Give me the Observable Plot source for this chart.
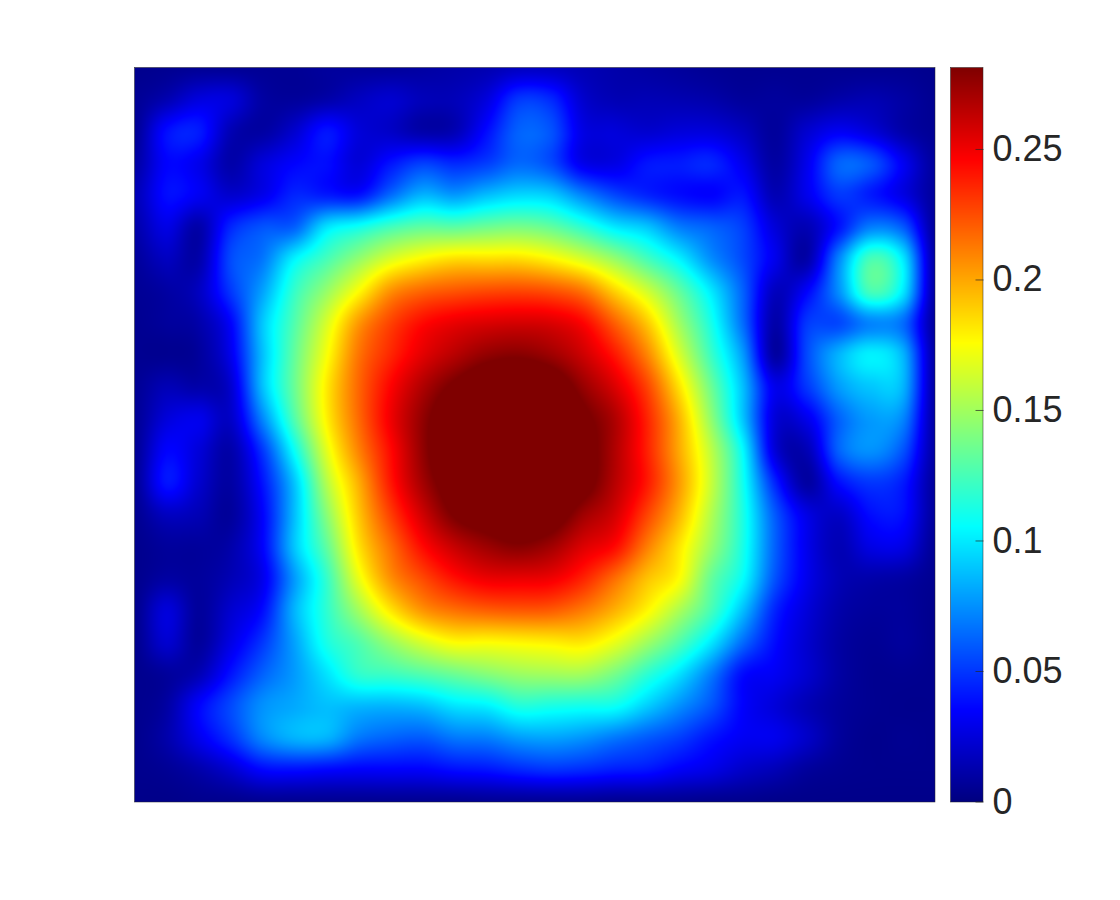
<!DOCTYPE html>
<html><head><meta charset="utf-8">
<script src="https://cdn.jsdelivr.net/npm/d3@7"></script>
<script src="https://cdn.jsdelivr.net/npm/@observablehq/plot@0.6"></script>
<style>
html,body{margin:0;padding:0;background:#fff}
#wrap{position:relative;width:1120px;height:900px;overflow:hidden}
#wrap svg,#wrap>div{position:absolute;left:0;top:0}
</style></head><body><div id="wrap"></div>
<script>
// Field values, in thousandths (rows top to bottom, columns left to right)
const grid = [
[4,5,6,6,6,6,8,8,8,10,12,14,18,18,15,12,10,8,6,5,5,5,5,5,5,4],
[6,14,26,25,10,8,12,18,22,16,16,26,50,46,22,15,15,14,12,8,8,8,12,14,10,5],
[6,38,42,15,10,22,40,25,20,12,15,38,62,58,28,25,22,25,25,18,8,22,32,25,12,6],
[10,35,30,12,25,35,38,25,40,52,46,52,64,56,30,28,40,42,45,30,10,30,62,58,32,8],
[15,38,32,22,30,45,42,40,65,85,78,88,95,92,72,55,45,38,35,40,15,30,50,42,28,8],
[12,28,12,45,58,62,98,110,124,132,131,136,139,133,118,100,90,70,62,52,25,15,40,70,60,8],
[8,18,12,55,68,103,125,146,166,178,185,185,185,178,165,147,125,103,75,55,30,12,72,125,100,10],
[6,10,18,50,80,120,147,176,206,218,223,226,227,224,214,188,163,133,100,62,18,35,75,125,100,10],
[5,8,12,35,90,128,165,204,228,244,252,256,258,256,246,220,191,150,112,65,12,50,55,72,65,8],
[5,5,8,30,88,133,174,214,236,254,266,276,279,273,260,240,210,166,122,78,10,55,85,102,85,10],
[6,15,12,22,88,135,181,218,246,268,285,298,303,296,275,256,228,184,136,88,30,50,78,90,85,10],
[6,25,30,20,72,128,179,217,250,276,298,312,317,310,287,268,237,197,146,90,25,30,62,78,72,10],
[6,35,25,12,50,108,168,210,244,276,302,315,320,313,292,268,238,200,158,105,25,15,62,75,58,10],
[6,40,22,10,40,90,155,198,240,271,293,305,310,305,290,266,240,204,161,110,45,10,38,50,42,8],
[5,18,15,8,35,88,143,191,229,259,283,292,298,293,273,258,228,196,155,113,60,28,20,38,38,8],
[4,8,8,12,35,90,132,183,216,244,262,273,279,272,256,244,212,183,148,112,62,30,15,28,28,6],
[4,10,8,15,30,78,120,170,206,226,242,251,252,250,237,216,193,176,134,106,58,30,15,12,10,5],
[4,25,8,22,38,85,118,150,182,205,215,220,222,221,212,197,178,153,125,88,45,25,12,8,8,4],
[4,22,8,28,50,80,112,128,148,165,176,176,178,180,182,170,150,128,100,65,38,22,10,6,8,4],
[4,8,15,40,62,78,98,118,122,128,135,142,148,150,150,138,118,98,70,38,32,22,10,5,5,4],
[4,10,35,55,75,82,88,86,85,88,98,102,114,112,110,108,92,75,58,35,25,15,8,5,4,4],
[4,12,30,48,72,84,84,68,62,60,68,70,78,80,76,68,60,52,40,32,30,20,8,4,5,4],
[4,6,12,22,36,38,36,34,34,34,38,40,45,48,46,42,40,33,28,20,15,8,5,4,4,4],
[3,3,4,4,5,5,5,5,5,5,5,6,6,6,6,5,5,5,4,4,3,3,3,3,3,3]
];
const nCols = grid[0].length, nRows = grid.length;
const colorMax = 0.2814;
const tickValues = [0, 0.05, 0.1, 0.15, 0.2, 0.25];
const jetStops = [0, 1/8, 3/8, 5/8, 7/8, 1];
const jetColors = ["#00007f", "#0000ff", "#00ffff", "#ffff00", "#ff0000", "#7f0000"];

const colorScale = {type: "linear", domain: jetStops.map(s => s * colorMax), range: jetColors, clamp: true};

// bicubic shading between grid samples
const cr = (a, b, c, d, t) => b + 0.5 * t * (c - a + t * (2*a - 5*b + 4*c - d + t * (3*(b - c) + d - a)));
const at = (i, j) => grid[Math.max(0, Math.min(nRows - 1, j))][Math.max(0, Math.min(nCols - 1, i))];
function shade(x, y) {
  const i = Math.min(nCols - 2, Math.floor(x)), j = Math.min(nRows - 2, Math.floor(y));
  const tx = x - i, ty = y - j, r = [];
  for (let k = -1; k <= 2; k++) r.push(cr(at(i-1, j+k), at(i, j+k), at(i+1, j+k), at(i+2, j+k), tx));
  return cr(r[0], r[1], r[2], r[3], ty) / 1000;
}

const wrap = document.getElementById("wrap");
const main = Plot.plot({
  width: 1120, height: 900,
  marginLeft: 134, marginRight: 185.5, marginTop: 67, marginBottom: 98.5,
  x: {domain: [0, nCols - 1], axis: null},
  y: {domain: [nRows - 1, 0], axis: null},
  color: colorScale,
  style: {background: "transparent"},
  marks: [
    Plot.raster({fill: shade, x1: 0, x2: nCols - 1, y1: 0, y2: nRows - 1, pixelSize: 1, imageRendering: "auto"}),
    Plot.frame({stroke: "#262626", strokeWidth: 0.5})
  ]
});
const bar = Plot.plot({
  width: 1120, height: 900,
  marginLeft: 950, marginRight: 137.5, marginTop: 67, marginBottom: 98.5,
  x: {domain: [0, 1], axis: null},
  y: {domain: [0, colorMax]},
  color: colorScale,
  style: {background: "transparent", fontFamily: "'Liberation Sans', sans-serif"},
  marks: [
    Plot.raster({fill: (x, y) => y, x1: 0, x2: 1, y1: 0, y2: colorMax, pixelSize: 1}),
    Plot.frame({stroke: "#262626", strokeWidth: 0.5}),
    Plot.axisY({anchor: "right", ticks: tickValues, tickFormat: String, tickSize: -8, tickPadding: 17.5,
                fontSize: 36, color: "#262626", label: null, strokeWidth: 0.7})
  ]
});
wrap.append(main, bar);
</script></body></html>
